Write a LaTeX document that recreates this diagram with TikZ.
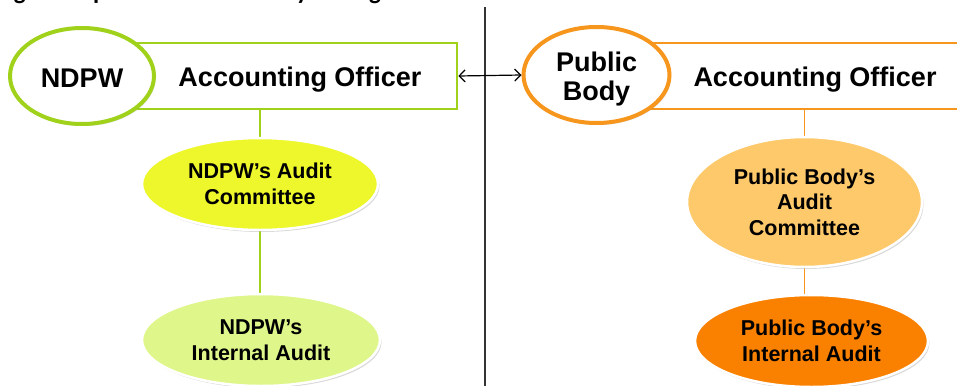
\documentclass[tikz,border=0pt]{standalone}
\usepackage{fontspec}
\setmainfont{Liberation Sans}
\newfontfamily\titlefont{Carlito}
\usetikzlibrary{shapes.geometric,shadows,arrows.meta}
\definecolor{lgreen}{HTML}{A0D21C}
\definecolor{cyellow}{HTML}{EEF72B}
\definecolor{clgreen}{HTML}{DFF68A}
\definecolor{lorange}{HTML}{F7961C}
\definecolor{corange}{HTML}{FDC96B}
\definecolor{dorange}{HTML}{FA8100}
\pgfdeclarelayer{bgfill}
\pgfdeclarelayer{bg}
\pgfsetlayers{bgfill,bg,main}
\tikzset{
  bigtext/.style={font=\bfseries\fontsize{27}{29}\selectfont, align=center, inner sep=0},
  headbox/.style={draw, line width=2.6pt, minimum height=66pt, inner sep=0},
  orgoval/.style={ellipse, draw, fill=white, line width=4pt, inner sep=0,
     drop shadow={opacity=0.25, shadow xshift=1.5pt, shadow yshift=-2pt}},
  auditoval/.style={ellipse, draw=white, line width=2.5pt, inner sep=0,
     font=\bfseries\fontsize{21.5}{25.5}\selectfont, align=center,
     drop shadow={opacity=0.3, shadow xshift=1.5pt, shadow yshift=-2pt}},
  conn/.style={line width=1.2pt},
}
\begin{document}
\begin{tikzpicture}[x=1pt,y=-1pt]
\useasboundingbox (0,0) rectangle (957,385);
\clip (0,0) rectangle (957,385);
\begin{pgfonlayer}{bgfill}
\fill[white] (0,0) rectangle (957,385);
\end{pgfonlayer}
% cut-off title
\node[anchor=base west, inner sep=0, font=\titlefont\bfseries\fontsize{25}{27}\selectfont] (title) at (-4,-0.5) {Figure 3: public accountability arrangements};
% divider
\coordinate (divtop) at (485,7);
\coordinate (divbot) at (485,390);
\draw[line width=1.2pt, black!80] (divtop) -- (divbot);
% left group
\node[headbox, draw=lgreen, minimum width=337pt] (rectL) at (288.5,76) {};
\node[orgoval, draw=lgreen, minimum width=144pt, minimum height=96pt] (ndpw) at (82,76) {};
\node[bigtext] (ndpwt) at (82,78) {NDPW};
\node[bigtext] (aoL) at (300,80) {Accounting Officer};
\node[auditoval, fill=cyellow, minimum width=236pt, minimum height=92pt] (comL) at (260,184) {NDPW’s Audit\\Committee};
\node[auditoval, fill=clgreen, minimum width=238pt, minimum height=92pt] (intL) at (261,340) {NDPW’s\\Internal Audit};
\begin{pgfonlayer}{bg}
\draw[lgreen, conn] (comL.north |- rectL.south) -- (comL.north);
\draw[lgreen, conn] (comL.south) -- (comL.south |- intL.north);
\end{pgfonlayer}
% right group
\node[headbox, draw=lorange, minimum width=360pt] (rectR) at (820,76) {};
\node[orgoval, draw=lorange, minimum width=146pt, minimum height=96pt] (pb) at (596.5,75) {};
\node[bigtext] (pbt) at (596.5,79) {Public\\Body};
\node[bigtext] (aoR) at (815,80) {Accounting Officer};
\node[auditoval, fill=corange, minimum width=235pt, minimum height=130pt] (comR) at (804.5,202) {Public Body’s\\Audit\\Committee};
\node[auditoval, fill=dorange, minimum width=233pt, minimum height=92pt] (intR) at (811.5,341) {Public Body’s\\Internal Audit};
\begin{pgfonlayer}{bg}
\draw[lorange, conn] (comR.north |- rectR.south) -- (comR.north);
\draw[lorange, conn] (comR.south) -- (comR.south |- intR.north);
\end{pgfonlayer}
% double arrow
\draw[line width=1.2pt, {Straight Barb[length=6pt,width=12pt]}-{Straight Barb[length=6pt,width=12pt]}] (rectL.east) -- (pb.west);
\end{tikzpicture}
\end{document}
